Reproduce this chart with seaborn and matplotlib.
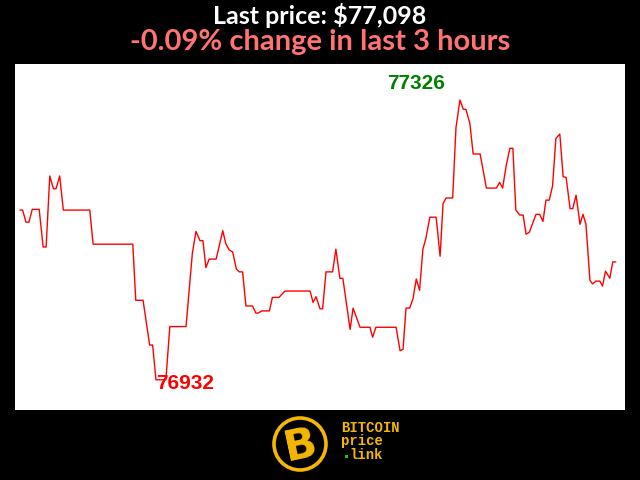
import matplotlib
matplotlib.use("Agg")
import matplotlib.pyplot as plt
import seaborn as sns
import pandas as pd
from matplotlib.patches import Circle, Rectangle

# ---- data ----
time_min = [0.0, 0.8, 1.8, 2.7, 3.7, 5.8, 7.0, 7.9, 9.0, 10.1, 10.9, 12.0, 13.1, 21.1,
            22.1, 34.1, 35.0, 37.2, 39.2, 40.1, 41.1, 44.1, 45.3, 50.2, 52.1, 53.2, 54.4,
            55.3, 56.2, 57.2, 59.3, 61.3, 62.2, 63.2, 64.3, 65.4, 66.3, 67.3, 68.3, 70.3,
            71.3, 72.0, 73.1, 75.4, 76.3, 78.3, 80.1, 87.7, 88.6, 89.5, 90.7, 91.5, 92.5,
            94.5, 95.5, 96.7, 97.6, 99.8, 100.7, 102.8, 105.8, 106.6, 107.6, 113.7, 114.9,
            115.8, 116.7, 117.8, 118.8, 119.8, 120.8, 121.8, 122.7, 123.9, 125.8, 127.0,
            127.9, 128.8, 130.8, 131.8, 133.0, 134.0, 134.8, 136.0, 137.0, 139.1, 141.0,
            144.0, 145.0, 145.9, 147.0, 148.1, 149.0, 149.9, 151.1, 152.1, 153.0, 154.0,
            156.0, 157.1, 158.1, 159.0, 160.0, 161.0, 162.0, 163.2, 164.2, 165.1, 166.3,
            167.1, 168.1, 169.3, 170.2, 171.1, 172.3, 173.1, 174.1, 175.3, 176.1, 177.0,
            178.3, 179.2, 180.1]

price = [77171, 77171, 77154, 77154, 77172, 77172, 77119, 77119, 77219, 77201, 77201,
         77219, 77171, 77171, 77123, 77123, 77044, 77044, 76981, 76981, 76932, 76932,
         77007, 77007, 77110, 77141, 77128, 77128, 77090, 77102, 77102, 77142, 77124,
         77115, 77112, 77088, 77084, 77084, 77036, 77036, 77026, 77026, 77029, 77029,
         77048, 77048, 77057, 77057, 77041, 77049, 77032, 77032, 77084, 77084, 77116,
         77075, 77075, 77003, 77033, 77006, 77006, 76992, 77006, 77006, 76973, 76975,
         77033, 77033, 77046, 77074, 77058, 77116, 77131, 77161, 77161, 77106, 77180,
         77188, 77188, 77287, 77326, 77313, 77313, 77293, 77250, 77250, 77202, 77202,
         77210, 77202, 77234, 77258, 77258, 77171, 77164, 77164, 77137, 77140, 77165,
         77165, 77155, 77185, 77185, 77205, 77272, 77278, 77218, 77217, 77173, 77173,
         77192, 77151, 77165, 77151, 77072, 77067, 77071, 77071, 77064, 77085, 77075,
         77098, 77098]

title_text = "Last price: $77,098"
subtitle_text = "-0.09% change in last 3 hours"
logo_lines = ["BITCOIN", "price", "link"]

assert len(time_min) == len(price), (len(time_min), len(price))
df = pd.DataFrame({"minute": time_min, "price": price})

# ---- figure ----
sns.set_theme(style="white")
plt.rcParams["font.family"] = ["Lato", "DejaVu Sans"]

fig = plt.figure(figsize=(6.4, 4.8), dpi=100, facecolor="black")
ax = fig.add_axes([15 / 640, 70 / 480, 610 / 640, 346 / 480])
ax.set_facecolor("white")

sns.lineplot(data=df, x="minute", y="price", ax=ax, color="#ff0000",
             linewidth=1.0, sort=False, estimator=None)

ax.set_xlim(-1.51, 182.9)
ax.set_ylim(76889.5, 77376.7)
ax.set_xticks([])
ax.set_yticks([])
ax.set_xlabel("")
ax.set_ylabel("")
for s in ax.spines.values():
    s.set_visible(False)

# max / min labels
imax = df["price"].idxmax()
imin = df["price"].idxmin()
ax.annotate(f"{df['price'][imax]}", (df["minute"][imax], df["price"][imax]),
            xytext=(-44, 16.5), textcoords="offset pixels", ha="center", va="center",
            color="#008000", fontsize=15, fontweight="bold", family="Liberation Sans")
ax.annotate(f"{df['price'][imin]}", (df["minute"][imin], df["price"][imin]),
            xytext=(29.5, -4), textcoords="offset pixels", ha="center", va="center",
            color="#ff0000", fontsize=15, fontweight="bold", family="Liberation Sans")

# titles
fig.text(0.5, 1 - 24 / 480, title_text, ha="center", va="baseline", color="white",
         fontsize=18, fontweight="bold")
fig.text(0.5, 1 - 50 / 480, subtitle_text, ha="center", va="baseline", color="#ff7373",
         fontsize=21, fontweight="bold")

# logo
lax = fig.add_axes([265 / 640, 0, 140 / 640, 70 / 480])
lax.set_xlim(265, 405)
lax.set_ylim(480, 410)
lax.axis("off")
gold = "#f5b800"
lax.add_patch(Circle((300, 444), 26, facecolor="black", edgecolor=gold, linewidth=2.6))
lax.text(301, 446, "B", ha="center", va="center", color=gold, fontsize=31,
         fontweight="bold", family="DejaVu Sans", rotation=12)
lax.text(341, 432, logo_lines[0], ha="left", va="baseline", color=gold, fontsize=10,
         fontweight="bold", family="Liberation Mono")
lax.text(341, 445.5, logo_lines[1], ha="left", va="baseline", color=gold, fontsize=10,
         fontweight="bold", family="Liberation Mono")
lax.text(349.5, 459, logo_lines[2], ha="left", va="baseline", color=gold, fontsize=10,
         fontweight="bold", family="Liberation Mono")
lax.add_patch(Rectangle((344.5, 454.5), 3, 3, facecolor="#22c022", edgecolor="none"))

fig.savefig("out.png", dpi=100, facecolor="black")
